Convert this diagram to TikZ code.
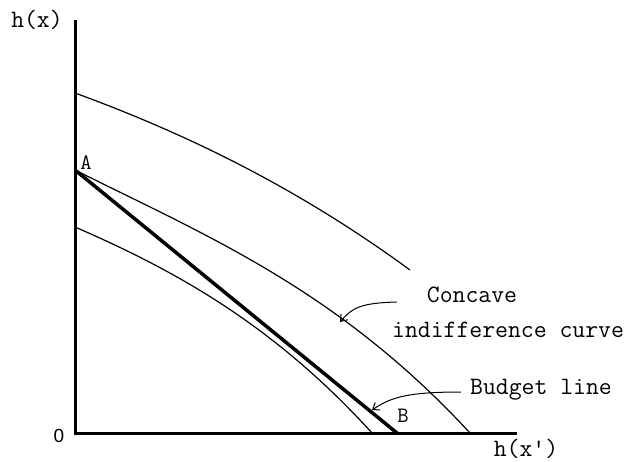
\documentclass[tikz,border=0pt]{standalone}
\usepackage{fontspec}
\setsansfont{Liberation Sans}
\usetikzlibrary{arrows.meta}

\begin{document}
\begin{tikzpicture}[x=1pt, y=-1pt, >={Straight Barb[length=6pt,width=9pt]},
    lbl/.style={font=\ttfamily\fontsize{25}{27}\selectfont, inner sep=0pt},
    pt/.style={font=\ttfamily\fontsize{22}{24}\selectfont, inner sep=0pt},
    curve/.style={line width=1.2pt},
    axis/.style={line width=3pt}]
    \useasboundingbox (0,0) rectangle (632,461);

    % Axes
    \coordinate (O) at (75,433);
    \coordinate (ytop) at (75,20);
    \coordinate (xend) at (517,433);
    \draw[axis] (ytop) -- (O) -- (xend);
    \node[lbl] (hx) at (37,20) {h(x)};
    \node[lbl] (hxp) at (526,449) {h(x')};
    \node[font=\sffamily\fontsize{19}{21}\selectfont, inner sep=0pt] (zero) at (59,436) {0};

    % Indifference curves
    \draw[curve] (75,93) .. controls (187,134) and (298,188) .. (410,270);
    \draw[curve] (75,170) .. controls (207,236) and (338,290) .. (470,433);
    \draw[curve] (75,227) .. controls (174,270) and (273,324) .. (372,433);

    % Budget line
    \coordinate (A) at (75,170);
    \coordinate (B) at (397,433);
    \draw[line width=3.5pt] (A) -- (B);
    \node[pt] (Alab) at (86,163) {A};
    \node[pt] (Blab) at (403,416) {B};

    % Labels
    \node[lbl] (conc) at (472,295) {Concave};
    \node[lbl] (indiff) at (508,330) {indifference curve};
    \node[lbl] (budget) at (541,390) {Budget line};
    \coordinate (ctip) at (340,322);
    \coordinate (btip) at (372,410);
    \draw[->, line width=1pt] (conc.west) ++(-30,7) .. controls (360,303) and (352,308) .. (ctip);
    \draw[->, line width=1pt] (budget.west) ++(-9,2) .. controls (405,392) and (390,398) .. (btip);
\end{tikzpicture}
\end{document}
